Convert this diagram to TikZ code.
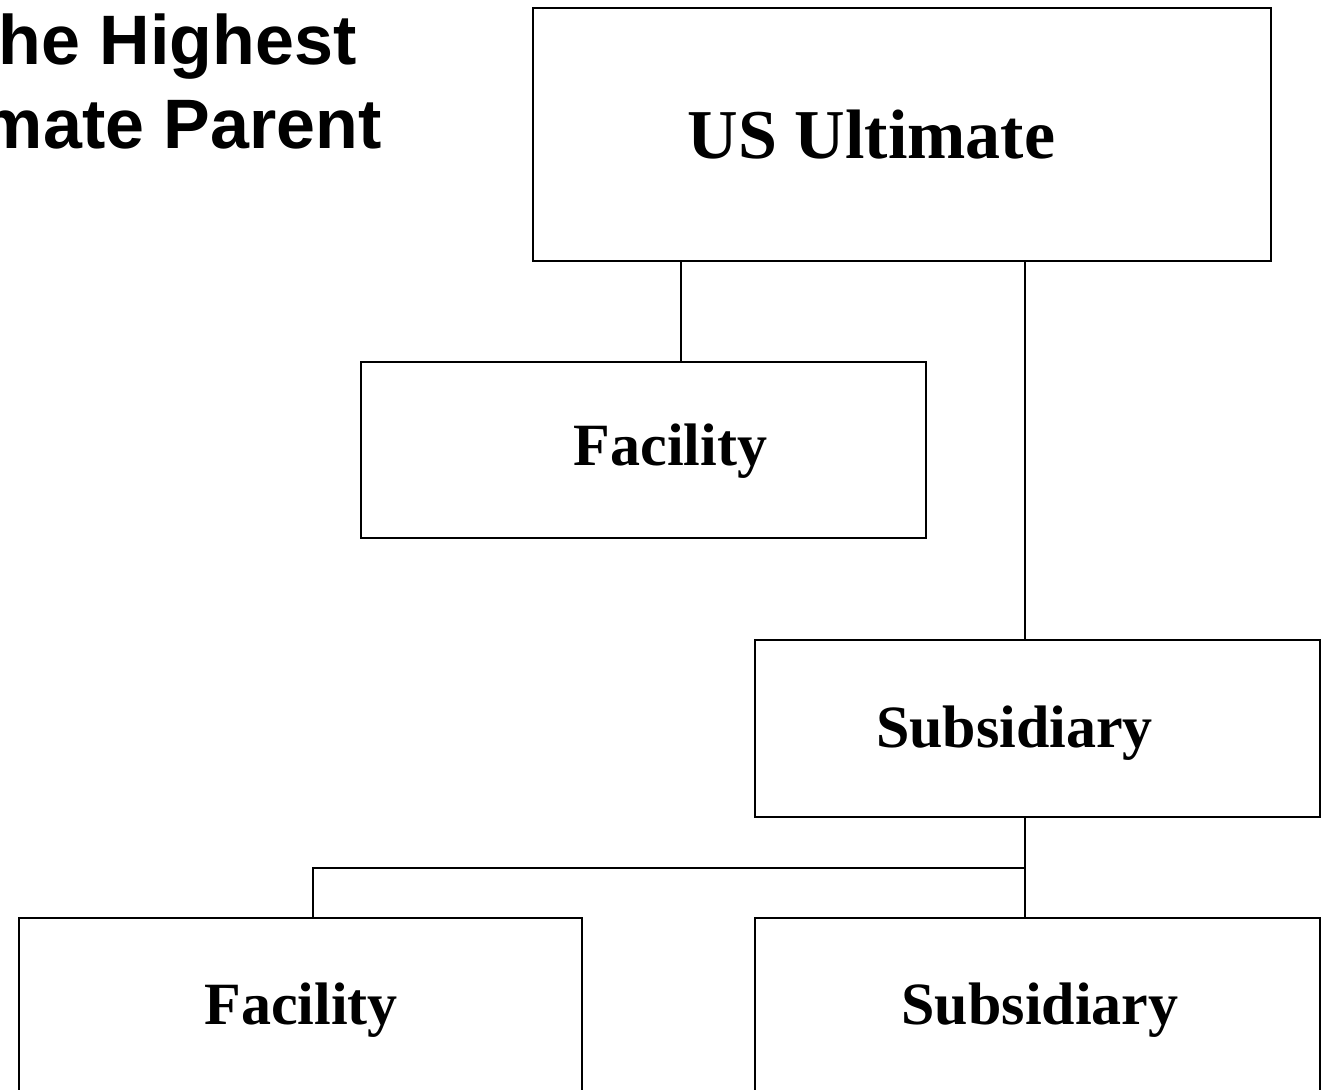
\documentclass[tikz,border=0pt]{standalone}
\usepackage{fontspec}
\setmainfont{Liberation Serif}
\newfontfamily\titlefont{Liberation Sans}
\usetikzlibrary{calc}

\tikzset{
  orgbox/.style={draw,line width=0.7pt,inner sep=0pt},
  orgtxt/.style={anchor=base,inner sep=0pt,font=\bfseries\fontsize{30}{36}\selectfont},
  orgline/.style={line width=0.6pt},
  ttl/.style={anchor=base east,inner sep=0pt,font=\titlefont\bfseries\fontsize{35}{42}\selectfont}
}

\begin{document}
\begin{tikzpicture}[x=0.5pt,y=-0.5pt]
        \useasboundingbox (0,0) rectangle (1322,1090);
        \node[ttl] (ttlA) at (357,65) {he Highest};
        \node[ttl] (ttlB) at (382,149) {mate Parent};
        % boxes
        \node[orgbox,minimum width=369pt,minimum height=126.5pt] (ult) at (902,134.5) {};
        \node[orgbox,minimum width=282.5pt,minimum height=88pt] (fac1) at (643.5,450) {};
        \node[orgbox,minimum width=282.5pt,minimum height=88.5pt] (sub1) at (1037.5,728.5) {};
        \node[orgbox,minimum width=281.5pt,minimum height=100pt] (fac2) at (300.5,1018) {};
        \node[orgbox,minimum width=282.5pt,minimum height=100pt] (sub2) at (1037.5,1018) {};
        % texts
        \node[orgtxt,font=\bfseries\fontsize{35}{42}\selectfont] (ultT) at (871.5,159) {US Ultimate};
        \node[orgtxt] (fac1T) at (670.5,466) {Facility};
        \node[orgtxt] (sub1T) at (1014.5,747) {Subsidiary};
        \node[orgtxt] (fac2T) at (301,1024) {Facility};
        \node[orgtxt] (sub2T) at (1040,1024) {Subsidiary};
        % connectors
        \coordinate (colA) at (681,0);
        \coordinate (colB) at (1025,0);
        \coordinate (colC) at (313,0);
        \coordinate (bus) at (0,868);
        \draw[orgline] (colA |- ult.south) -- (colA |- fac1.north);
        \draw[orgline] (colB |- ult.south) -- (colB |- sub1.north);
        \draw[orgline] (colB |- sub1.south) -- (colB |- sub2.north);
        \draw[orgline] (colB |- bus) -| (colC |- fac2.north);
\end{tikzpicture}
\end{document}
